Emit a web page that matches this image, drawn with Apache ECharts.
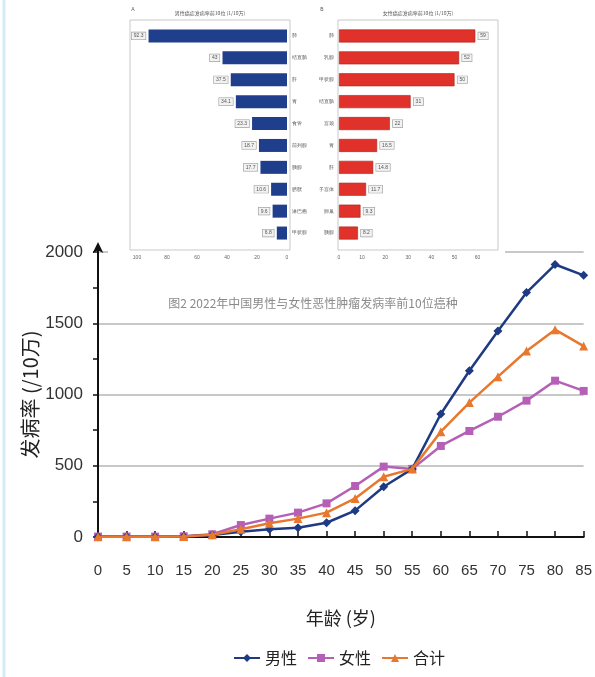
<!DOCTYPE html>
<html>
<head>
<meta charset="utf-8">
<script src="https://cdn.jsdelivr.net/npm/echarts@6/dist/echarts.min.js"></script>
<style>
html,body{margin:0;padding:0;background:#fff;}
#chart{width:595px;height:677px;}
</style>
</head>
<body>
<div id="chart"></div>
<script>
// ---- main line chart data ----
const ages = ['0','5','10','15','20','25','30','35','40','45','50','55','60','65','70','75','80','85'];
const maleRate   = [2, 2, 2, 3, 14, 37, 54, 65, 100, 185, 353, 478, 863, 1167, 1446, 1715, 1912, 1836];
const femaleRate = [3, 3, 3, 5, 19, 84, 129, 171, 236, 358, 494, 478, 639, 744, 844, 957, 1097, 1025];
const totalRate  = [2, 2, 2, 4, 16, 54, 96, 129, 171, 271, 423, 478, 739, 943, 1125, 1305, 1455, 1340];
const seriesNames = ['男性', '女性', '合计'];

// ---- inset bar chart data ----
const maleCancers   = ['肺', '结直肠', '肝', '胃', '食管', '前列腺', '胰腺', '膀胱', '淋巴瘤', '甲状腺'];
const maleValues    = [92.3, 43.0, 37.5, 34.1, 23.3, 18.7, 17.7, 10.6, 9.6, 6.8];
const femaleCancers = ['肺', '乳腺', '甲状腺', '结直肠', '宫颈', '胃', '肝', '子宫体', '卵巢', '胰腺'];
const femaleValues  = [59.0, 52.0, 50.0, 31.0, 22.0, 16.5, 14.8, 11.7, 9.3, 8.2];

const chart = echarts.init(document.getElementById('chart'), null, {renderer: 'canvas'});
const narrow = "'Liberation Sans Narrow', 'Arial Narrow', 'Liberation Sans', sans-serif";
const cjk = "'Noto Sans CJK SC', 'Liberation Sans', sans-serif";

const option = {
  backgroundColor: '#ffffff',
  animation: false,
  legend: {
    data: seriesNames,
    left: 228,
    bottom: 6,
    itemWidth: 26,
    itemHeight: 10,
    itemGap: 10,
    textStyle: {fontSize: 16, color: '#222', fontFamily: cjk}
  },
  grid: [
    {left: 98, right: 7, top: 252, bottom: 140, containLabel: false},
    {left: 137, width: 150, top: 25, height: 219, z: 10},
    {left: 339, width: 138.6, top: 25, height: 219, z: 10}
  ],
  xAxis: [
    {
      gridIndex: 0, type: 'category', data: ages, boundaryGap: false,
      name: '年龄 (岁)', nameLocation: 'middle', nameGap: 72, nameMoveOverlap: false,
      nameTextStyle: {fontSize: 18, color: '#222', fontFamily: cjk},
      axisLine: {lineStyle: {color: '#111', width: 2}},
      axisTick: {show: true, inside: true, length: 6, lineStyle: {color: '#111', width: 1.5}},
      axisLabel: {fontSize: 15, color: '#333', margin: 26, fontFamily: narrow}
    },
    {
      gridIndex: 1, type: 'value', min: 0, max: 100, interval: 20, inverse: true, z: 10,
      axisLine: {show: false}, axisTick: {show: false}, splitLine: {show: false},
      axisLabel: {fontSize: 5, color: '#666', margin: 11}
    },
    {
      gridIndex: 2, type: 'value', min: 0, max: 60, interval: 10, z: 10,
      axisLine: {show: false}, axisTick: {show: false}, splitLine: {show: false},
      axisLabel: {fontSize: 5, color: '#666', margin: 11}
    }
  ],
  yAxis: [
    {
      gridIndex: 0, type: 'value', min: 0, max: 2000, interval: 500,
      name: '发病率 (/10万)', nameLocation: 'middle', nameGap: 58, nameRotate: 90, nameMoveOverlap: false,
      nameTextStyle: {fontSize: 20, color: '#222', fontFamily: cjk},
      axisLine: {show: true, symbol: ['none', 'arrow'], symbolSize: [8, 11], symbolOffset: [0, 10],
                 lineStyle: {color: '#111', width: 2}},
      axisTick: {show: true, length: 5, lineStyle: {color: '#111', width: 1.5}},
      minorTick: {show: true, splitNumber: 2, length: 5, lineStyle: {color: '#111', width: 1.5}},
      splitLine: {show: true, lineStyle: {color: '#c8c8c8', width: 2}},
      axisLabel: {fontSize: 17, color: '#333', margin: 15, fontFamily: narrow,
                  formatter: function (v) { return String(v); }}
    },
    {
      gridIndex: 1, type: 'category', data: maleCancers, inverse: true, position: 'right', z: 10,
      axisLine: {show: false}, axisTick: {show: false},
      axisLabel: {fontSize: 5, color: '#555', margin: 5}
    },
    {
      gridIndex: 2, type: 'category', data: femaleCancers, inverse: true, position: 'left', z: 10,
      axisLine: {show: false}, axisTick: {show: false},
      axisLabel: {fontSize: 5, color: '#555', margin: 5}
    }
  ],
  series: [
    {
      name: '男性', type: 'line', xAxisIndex: 0, yAxisIndex: 0, data: maleRate,
      symbol: 'diamond', symbolSize: 9, showAllSymbol: true,
      itemStyle: {color: '#1e3a82'}, lineStyle: {color: '#1e3a82', width: 2.5}, z: 4
    },
    {
      name: '女性', type: 'line', xAxisIndex: 0, yAxisIndex: 0, data: femaleRate,
      symbol: 'rect', symbolSize: 8, showAllSymbol: true,
      itemStyle: {color: '#b560b6'}, lineStyle: {color: '#b560b6', width: 2.5}, z: 3
    },
    {
      name: '合计', type: 'line', xAxisIndex: 0, yAxisIndex: 0, data: totalRate,
      symbol: 'triangle', symbolSize: 9, showAllSymbol: true,
      itemStyle: {color: '#e8782e'}, lineStyle: {color: '#e8782e', width: 2.5}, z: 5
    },
    {
      type: 'bar', xAxisIndex: 1, yAxisIndex: 1, data: maleValues, barWidth: 13, z: 10,
      itemStyle: {color: '#1f3f8c'},
      label: {show: true, position: 'left', fontSize: 5, color: '#555', distance: 3,
              backgroundColor: '#f2f2f2', borderColor: '#999', borderWidth: 0.6, padding: [1, 2]}
    },
    {
      type: 'bar', xAxisIndex: 2, yAxisIndex: 2, data: femaleValues, barWidth: 13, z: 10,
      itemStyle: {color: '#e0322a', borderColor: '#a82018', borderWidth: 0.6},
      label: {show: true, position: 'right', fontSize: 5, color: '#555', distance: 3,
              backgroundColor: '#f2f2f2', borderColor: '#999', borderWidth: 0.6, padding: [1, 2]}
    }
  ],
  graphic: [
    // light blue frame at left edge of screenshot
    {type: 'line', z: 20, shape: {x1: 4, y1: 0, x2: 4, y2: 677}, style: {stroke: '#d6ebf8', lineWidth: 3}},
    // y-axis line extension up to the arrow
    {type: 'line', z: 20, shape: {x1: 98, y1: 253, x2: 98, y2: 244}, style: {stroke: '#111', lineWidth: 2}},
    // white background of the pasted inset picture
    {type: 'rect', z: 5, shape: {x: 108, y: 0, width: 397, height: 268}, style: {fill: '#ffffff'}},
    // inset panel frames
    {type: 'rect', z: 6, shape: {x: 130, y: 20, width: 160, height: 230}, style: {fill: '#ffffff', stroke: '#bbbbbb', lineWidth: 0.8}},
    {type: 'rect', z: 6, shape: {x: 338, y: 20, width: 160, height: 230}, style: {fill: '#ffffff', stroke: '#bbbbbb', lineWidth: 0.8}},
    // inset panel titles
    {type: 'text', z: 20, style: {x: 210, y: 13, text: '男性癌症发病率前10位 (1/10万)', fontSize: 5, fill: '#555', align: 'center', verticalAlign: 'middle', fontFamily: cjk}},
    {type: 'text', z: 20, style: {x: 418, y: 13, text: '女性癌症发病率前10位 (1/10万)', fontSize: 5, fill: '#555', align: 'center', verticalAlign: 'middle', fontFamily: cjk}},
    {type: 'text', z: 20, style: {x: 133, y: 10, text: 'A', fontSize: 5, fill: '#555', align: 'center', verticalAlign: 'middle'}},
    {type: 'text', z: 20, style: {x: 322, y: 10, text: 'B', fontSize: 5, fill: '#555', align: 'center', verticalAlign: 'middle'}},
    // inset caption
    {type: 'text', z: 20, style: {x: 313, y: 303, text: '图2 2022年中国男性与女性恶性肿瘤发病率前10位癌种', fontSize: 12, fill: '#8a8a8a', align: 'center', verticalAlign: 'middle', fontFamily: cjk}}
  ]
};
chart.setOption(option);
</script>
</body>
</html>
